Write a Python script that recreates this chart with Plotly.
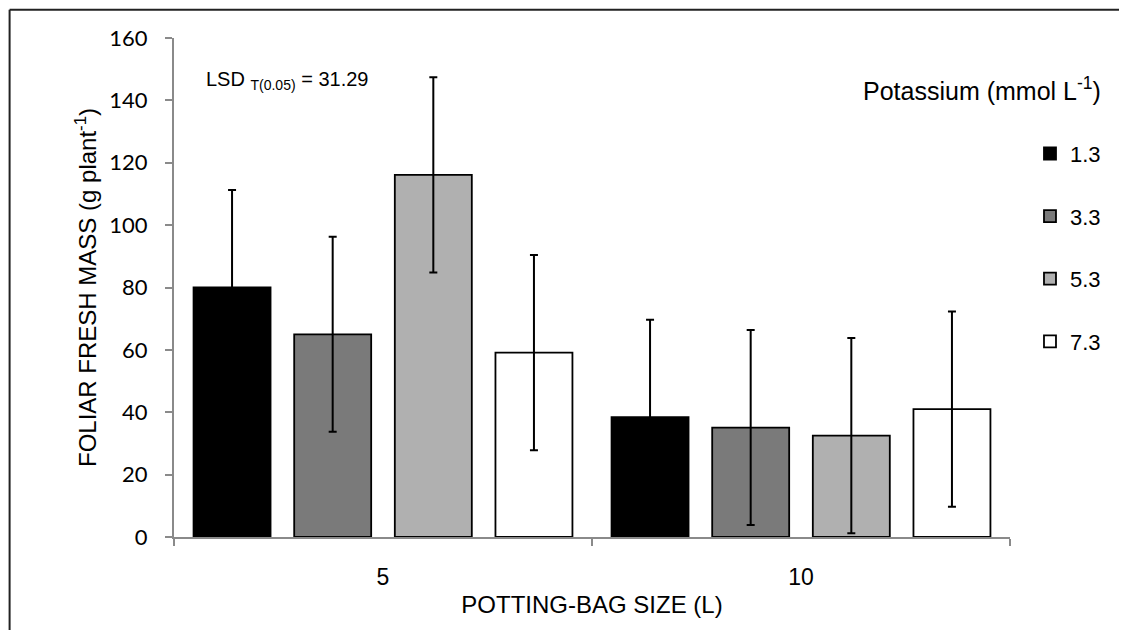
import plotly.graph_objects as go

# ---- data ----
bag_sizes = ["5", "10"]
series_names = ["1.3", "3.3", "5.3", "7.3"]
k_1_3 = [80.0, 38.4]
k_3_3 = [65.0, 35.1]
k_5_3 = [116.1, 32.5]
k_7_3 = [59.1, 41.0]
lsd = 31.29
y_ticks = [0, 20, 40, 60, 80, 100, 120, 140, 160]

series_values = [k_1_3, k_3_3, k_5_3, k_7_3]
fills = ["#000000", "#7a7a7a", "#b0b0b0", "#ffffff"]

OFF = 8  # page body margin of the html page
W, H = 1127, 630
# plot area in page pixels
L, R, T, B = 173.5, 1010, 38.3, 537.3

fig = go.Figure()
for name, vals, col in zip(series_names, series_values, fills):
    fig.add_trace(go.Bar(
        x=bag_sizes, y=vals, name=name, legendgroup=name,
        marker=dict(color=col, line=dict(color="#000000", width=1.8)),
        error_y=dict(type="constant", value=lsd, symmetric=True,
                     color="#000000", thickness=2, width=4),
    ))

def px_x(px):
    return (px - L) / (R - L)

def px_y(py):
    return (B - py) / (B - T)

axis_gray = "#8a8a8a"
fig.update_layout(
    width=W, height=H,
    margin=dict(l=L - OFF, r=W - (R - OFF), t=T - OFF, b=H - (B - OFF), pad=0),
    paper_bgcolor="white", plot_bgcolor="white",
    barmode="group", bargap=0.037, bargroupgap=0.235,
    font=dict(family="Liberation Sans, Arial, sans-serif", color="#000000"),
    showlegend=True,
    legend=dict(
        x=px_x(1030), y=px_y(140 - OFF + 1), xanchor="left", yanchor="top",
        traceorder="grouped", tracegroupgap=31,
        font=dict(size=22, family="Liberation Sans, Arial, sans-serif"),
        bgcolor="rgba(0,0,0,0)", borderwidth=0,
    ),
    xaxis=dict(
        type="category", showgrid=False, zeroline=False,
        showline=True, linecolor=axis_gray, linewidth=2,
        ticks="outside", tickson="boundaries", ticklen=7, tickcolor=axis_gray, tickwidth=1.5,
        tickfont=dict(size=23, family="Liberation Sans Narrow, Liberation Sans, Arial, sans-serif"),
        ticklabelstandoff=18,
        title=dict(text="POTTING-BAG SIZE (L)", font=dict(size=24), standoff=8),
        automargin=False,
    ),
    yaxis=dict(
        range=[0, 160], tickvals=y_ticks, showgrid=False, zeroline=False,
        showline=True, linecolor=axis_gray, linewidth=2,
        ticks="outside", ticklen=7, tickcolor=axis_gray, tickwidth=1.5,
        tickfont=dict(size=22, family="Lato, Open Sans, sans-serif"),
        ticklabelstandoff=13,
        title=dict(text="FOLIAR FRESH MASS (g plant<sup>-1</sup>)", font=dict(size=24), standoff=6),
        automargin=False,
    ),
)

fig.add_annotation(
    xref="paper", yref="paper", x=px_x(204), y=px_y(81),
    xanchor="left", yanchor="middle", showarrow=False,
    text="LSD <sub>T(0.05)</sub> = 31.29", font=dict(size=20),
)
fig.add_annotation(
    xref="paper", yref="paper", x=px_x(1103), y=px_y(89),
    xanchor="right", yanchor="middle", showarrow=False,
    text="Potassium (mmol L<sup>-1</sup>)", font=dict(size=25),
)

# outer chart frame: only top and left edges fall inside the picture
frame = dict(color="#222222", width=2)
fig.add_shape(type="line", xref="paper", yref="paper", layer="below",
              x0=px_x(OFF + 1), x1=px_x(1200), y0=px_y(10), y1=px_y(10), line=frame)
fig.add_shape(type="line", xref="paper", yref="paper", layer="below",
              x0=px_x(OFF + 1), x1=px_x(OFF + 1), y0=px_y(10), y1=px_y(700), line=frame)

fig.write_html("out.html")
